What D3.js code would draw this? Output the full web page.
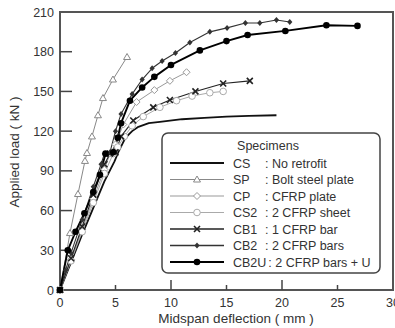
<!DOCTYPE html>
<html>
<head>
<meta charset="utf-8">
<script src="https://cdn.jsdelivr.net/npm/d3@7"></script>
<style>
  body { margin: 0; background: #fff; }
  text { font-family: "Liberation Sans", Arial, sans-serif; fill: #333; }
</style>
</head>
<body>
<script>
// data: [deflection mm, load kN]
var CS   = [[0,0],[1,21],[2,42],[3,62],[4,82],[4.9,97],[5.3,105],[5.6,110],[5.9,115],[6.5,120],[7,123],[8,126],[9,127],[11,129],[13,130],[15,131],[17,131.5],[19.5,132]];
var SP   = [[0,0],[0.9,43],[1.62,72.5],[2.25,97.5],[2.43,103.5],[2.88,116],[3.42,132],[3.87,145],[4.77,159],[6.04,176]];
var CP   = [[0,0],[1,23],[2,46],[3,69],[4,91],[4.5,103],[5,110],[5.7,125],[6.9,142],[8.5,151],[9.9,158],[11.4,164.5]];
var CS2  = [[0,0],[1,22],[2,44],[3,66],[4,88],[4.8,103],[5.2,108],[5.8,116],[6.5,124],[7.5,131],[9,138],[10.5,143],[11.9,146.5],[13.5,149],[14.7,150]];
var CB1  = [[0,0],[1,24],[2,48],[3,72],[4,95],[4.5,103],[5,104],[5.5,116],[6.6,128],[8.4,138],[9.9,143.5],[12.2,150],[14.7,156],[17.1,158]];
var CB2  = [[0,0],[0.5,15],[1,28],[2,53],[3,78],[3.7,95],[4,103],[4.5,104],[5,120],[5.5,133],[6.5,148],[7.4,159],[8.3,167.5],[9.2,173],[10.4,179],[11.7,187],[13.5,195],[15.05,198],[16.7,201.7],[18,201.7],[19.5,204],[20.7,202.5]];
var CB2U = [[0,0],[0.7,30],[1.4,44],[2.2,58],[3,74],[3.6,87],[4.1,103],[4.8,104],[5.2,115],[5.5,126],[6.3,143],[7.4,153],[8.5,161],[10,170],[12.6,181],[15,188],[16.9,192.6],[20.3,195.7],[24,200],[26.8,199.5]];

var codes = ["CS", "SP", "CP", "CS2", "CB1", "CB2", "CB2U"];
var descs = [": No retrofit", ": Bolt steel plate", ": CFRP plate", ": 2 CFRP sheet", ": 1 CFRP bar", ": 2 CFRP bars", ": 2 CFRP bars + U"];
var xTicks = [0, 5, 10, 15, 20, 25, 30];
var yTicks = [0, 30, 60, 90, 120, 150, 180, 210];

var series = [
  {data: CS,   stroke: "#111", width: 1.8, marker: "none"},
  {data: SP,   stroke: "#888", width: 1,   marker: "triangle"},
  {data: CP,   stroke: "#999", width: 1,   marker: "diamond"},
  {data: CS2,  stroke: "#aaa", width: 1,   marker: "circle"},
  {data: CB1,  stroke: "#222", width: 1.1, marker: "cross"},
  {data: CB2,  stroke: "#333", width: 1.1, marker: "dot"},
  {data: CB2U, stroke: "#000", width: 1.9, marker: "bigdot"}
];

var width = 395, height = 328;
var mLeft = 60, mRight = 393, mTop = 12, mBottom = 290;

var svg = d3.select("body").append("svg")
  .attr("width", width).attr("height", height);

var x = d3.scaleLinear().domain([0, 30]).range([mLeft, mRight]);
var y = d3.scaleLinear().domain([0, 210]).range([mBottom, mTop]);

// rita ramen
svg.append("rect")
  .attr("x", mLeft).attr("y", mTop)
  .attr("width", mRight - mLeft).attr("height", mBottom - mTop)
  .attr("fill", "none").attr("stroke", "#555").attr("stroke-width", 2);

// y ticks inward
svg.selectAll(".yt").data(yTicks.slice(1, -1)).enter().append("line")
  .attr("x1", mLeft).attr("x2", mLeft + 12)
  .attr("y1", function(d) { return y(d); }).attr("y2", function(d) { return y(d); })
  .attr("stroke", "#444").attr("stroke-width", 1.5);

svg.selectAll(".yl").data(yTicks).enter().append("text")
  .attr("x", mLeft - 6).attr("y", function(d) { return y(d) + 4.5; })
  .attr("text-anchor", "end").attr("font-size", 12.5)
  .text(function(d) { return d; });

// x ticks inward, long at 10 and 20
svg.selectAll(".xt").data(xTicks.slice(1, -1)).enter().append("line")
  .attr("x1", function(d) { return x(d); }).attr("x2", function(d) { return x(d); })
  .attr("y1", mBottom).attr("y2", function(d) { return mBottom - (d % 10 == 0 ? 10 : 5); })
  .attr("stroke", "#444").attr("stroke-width", 1.5);

svg.selectAll(".xl").data(xTicks).enter().append("text")
  .attr("x", function(d) { return x(d); }).attr("y", mBottom + 17)
  .attr("text-anchor", "middle").attr("font-size", 12.5)
  .text(function(d) { return d; });

svg.append("text")
  .attr("x", 236).attr("y", 323)
  .attr("text-anchor", "middle").attr("font-size", 13.5)
  .text("Midspan  deflection ( mm )");

svg.append("text")
  .attr("transform", "translate(19,152) rotate(-90)")
  .attr("text-anchor", "middle").attr("font-size", 13.5)
  .text("Applied  load ( kN )");

var line = d3.line()
  .x(function(d) { return x(d[0]); })
  .y(function(d) { return y(d[1]); });

function drawMarker(g, type, cx, cy, stroke) {
  if (type == "triangle") {
    g.append("path").attr("d", "M" + cx + "," + (cy - 3.5) + "L" + (cx + 3.5) + "," + (cy + 2.5) + "L" + (cx - 3.5) + "," + (cy + 2.5) + "Z")
      .attr("fill", "#fff").attr("stroke", stroke).attr("stroke-width", 1);
  } else if (type == "diamond") {
    g.append("path").attr("d", "M" + cx + "," + (cy - 3.5) + "L" + (cx + 3.5) + "," + cy + "L" + cx + "," + (cy + 3.5) + "L" + (cx - 3.5) + "," + cy + "Z")
      .attr("fill", "#fff").attr("stroke", stroke).attr("stroke-width", 1);
  } else if (type == "circle") {
    g.append("circle").attr("cx", cx).attr("cy", cy).attr("r", 3.3)
      .attr("fill", "#fff").attr("stroke", stroke).attr("stroke-width", 1);
  } else if (type == "cross") {
    g.append("path").attr("d", "M" + (cx - 3) + "," + (cy - 3) + "L" + (cx + 3) + "," + (cy + 3) + "M" + (cx + 3) + "," + (cy - 3) + "L" + (cx - 3) + "," + (cy + 3))
      .attr("stroke", stroke).attr("stroke-width", 1.6);
  } else if (type == "dot") {
    g.append("path").attr("d", "M" + cx + "," + (cy - 3) + "L" + (cx + 2.6) + "," + cy + "L" + cx + "," + (cy + 3) + "L" + (cx - 2.6) + "," + cy + "Z")
      .attr("fill", stroke);
  } else if (type == "bigdot") {
    g.append("circle").attr("cx", cx).attr("cy", cy).attr("r", 3.3).attr("fill", stroke);
  }
}

var plot = svg.append("g");
series.forEach(function(s) {
  plot.append("path").datum(s.data)
    .attr("d", line).attr("fill", "none")
    .attr("stroke", s.stroke).attr("stroke-width", s.width)
    .attr("stroke-linejoin", "round");
});
series.forEach(function(s) {
  if (s.marker == "none") return;
  s.data.forEach(function(p) {
    drawMarker(plot, s.marker, x(p[0]), y(p[1]), s.stroke);
  });
});

// legend
var lg = svg.append("g");
lg.append("rect")
  .attr("x", 162).attr("y", 133).attr("width", 218).attr("height", 140)
  .attr("rx", 6).attr("fill", "#fff").attr("stroke", "#444").attr("stroke-width", 1.5);

lg.append("text").attr("x", 268).attr("y", 150)
  .attr("text-anchor", "middle").attr("font-size", 12.5).text("Specimens");

series.forEach(function(s, i) {
  var ly = 163 + i * 16.5;
  lg.append("line").attr("x1", 170).attr("x2", 224).attr("y1", ly).attr("y2", ly)
    .attr("stroke", s.stroke).attr("stroke-width", s.width + 0.2);
  drawMarker(lg, s.marker, 197, ly, s.stroke);
  var t = lg.append("text").attr("x", 233).attr("y", ly + 4.5)
    .attr("font-size", 12.5).text(codes[i]);
  var end = 233 + t.node().getComputedTextLength() + 2;
  lg.append("text").attr("x", Math.max(265, end)).attr("y", ly + 4.5)
    .attr("font-size", 12.5).text(descs[i]);
});
</script>
</body>
</html>
